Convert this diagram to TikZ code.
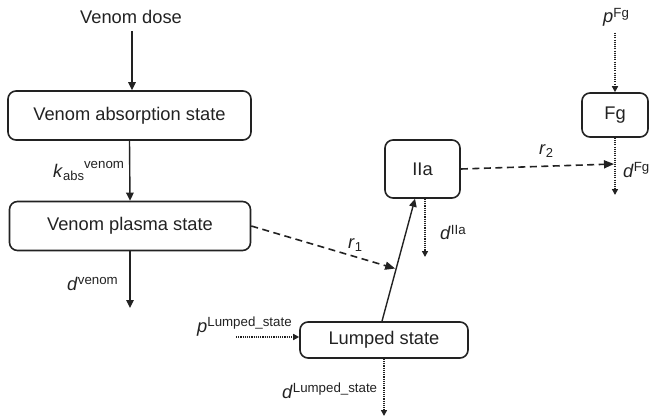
\documentclass[tikz,border=0pt]{standalone}
\usepackage{fontspec}
\setmainfont{Liberation Sans}
\usetikzlibrary{arrows.meta,calc}
\definecolor{ink}{HTML}{222222}
\newcommand{\supx}[1]{\raisebox{5.5pt}{\fontsize{13.3}{14}\selectfont #1}}
\newcommand{\subx}[1]{\raisebox{-3pt}{\fontsize{13}{14}\selectfont #1}}
\begin{document}
\begin{tikzpicture}[x=1pt,y=-1pt,
  every node/.style={text=ink},
  state/.style={draw=ink, line width=1.6pt, rounded corners=8pt, inner sep=0pt,
    font=\fontsize{18.3}{20}\selectfont},
  lbl/.style={inner sep=0pt, anchor=base west, font=\fontsize{18.3}{20}\selectfont},
  tipA/.style={-{Triangle[length=8pt,width=7.5pt]}},
  solidarr/.style={draw=ink, line width=1.4pt, tipA},
  dasharr/.style={draw=ink, line width=1.6pt, dash pattern=on 7pt off 4.5pt,
    -{Triangle[length=10pt,width=8pt]}},
  dotarr/.style={draw=ink, line width=1.6pt, dash pattern=on 1.1pt off 1.1pt,
    -{Triangle[length=6pt,width=6pt]}}
]
\useasboundingbox (0,0) rectangle (649,420);

% state boxes
\node[state, minimum width=243pt, minimum height=49pt] (absorb) at (129.5,115.5) {Venom absorption state};
\node[state, minimum width=241pt, minimum height=49pt] (plasma) at (130,226) {Venom plasma state};
\node[state, minimum width=75pt, minimum height=58pt] (iia) at (422.5,169) {IIa};
\node[state, minimum width=168pt, minimum height=36pt] (lump) at (384,340) {Lumped state};
\node[state, minimum width=66pt, minimum height=44pt] (fg) at (615,115) {Fg};

% labels
\node[inner sep=0pt, font=\fontsize{18.3}{20}\selectfont] (dose) at (131,16.5) {Venom dose};
\node[lbl] (kabs) at (53,177) {\textit{k}\subx{abs}\supx{\raisebox{3.5pt}{venom}}};
\node[lbl] (dven) at (67,290) {\textit{d}\supx{venom}};
\node[lbl] (r1) at (348,248) {\textit{r}\subx{1}};
\node[lbl] (diia) at (440,240) {\textit{d}\supx{IIa}};
\node[lbl] (plump) at (197,332) {\textit{p}\supx{Lumped\_state}};
\node[lbl] (dlump) at (282,398) {\textit{d}\supx{Lumped\_state}};
\node[lbl] (pfg) at (603,23) {\textit{p}\supx{Fg}};
\node[lbl] (dfg) at (623,177) {\textit{d}\supx{Fg}};
\node[lbl] (r2) at (539,154) {\textit{r}\subx{2}};

% free ends
\coordinate (venend) at (130,308);
\coordinate (iiaend) at (425,257);
\coordinate (lumpend) at (384,416);
\coordinate (fgend) at (615,195);
\coordinate (pfgstart) at (615,33);
\coordinate (plumpstart) at (236,337);
\coordinate (fgline) at (614,164);

% connectors
\draw[solidarr, shorten <=8pt] ([xshift=1pt]dose.south) -- ([xshift=2.5pt]absorb.north);
\draw[solidarr] (absorb.south) -- (plasma.north);
\draw[solidarr] (plasma.south) -- (venend);
\draw[solidarr] ([xshift=-2pt]lump.north) -- coordinate[pos=0.43] (mid) ([xshift=-7.5pt]iia.south);
\draw[dasharr] (plasma.east) -- ([xshift=-1pt]mid);
\draw[dotarr] ([xshift=2.5pt]iia.south) -- (iiaend);
\draw[dasharr] (iia.east) -- (fgline);
\draw[dotarr] (pfgstart) -- (fg.north);
\draw[dotarr] (fg.south) -- (fgend);
\draw[dotarr] (plumpstart) -- ([yshift=3pt]lump.west);
\draw[dotarr] (lump.south) -- (lumpend);
\end{tikzpicture}
\end{document}
